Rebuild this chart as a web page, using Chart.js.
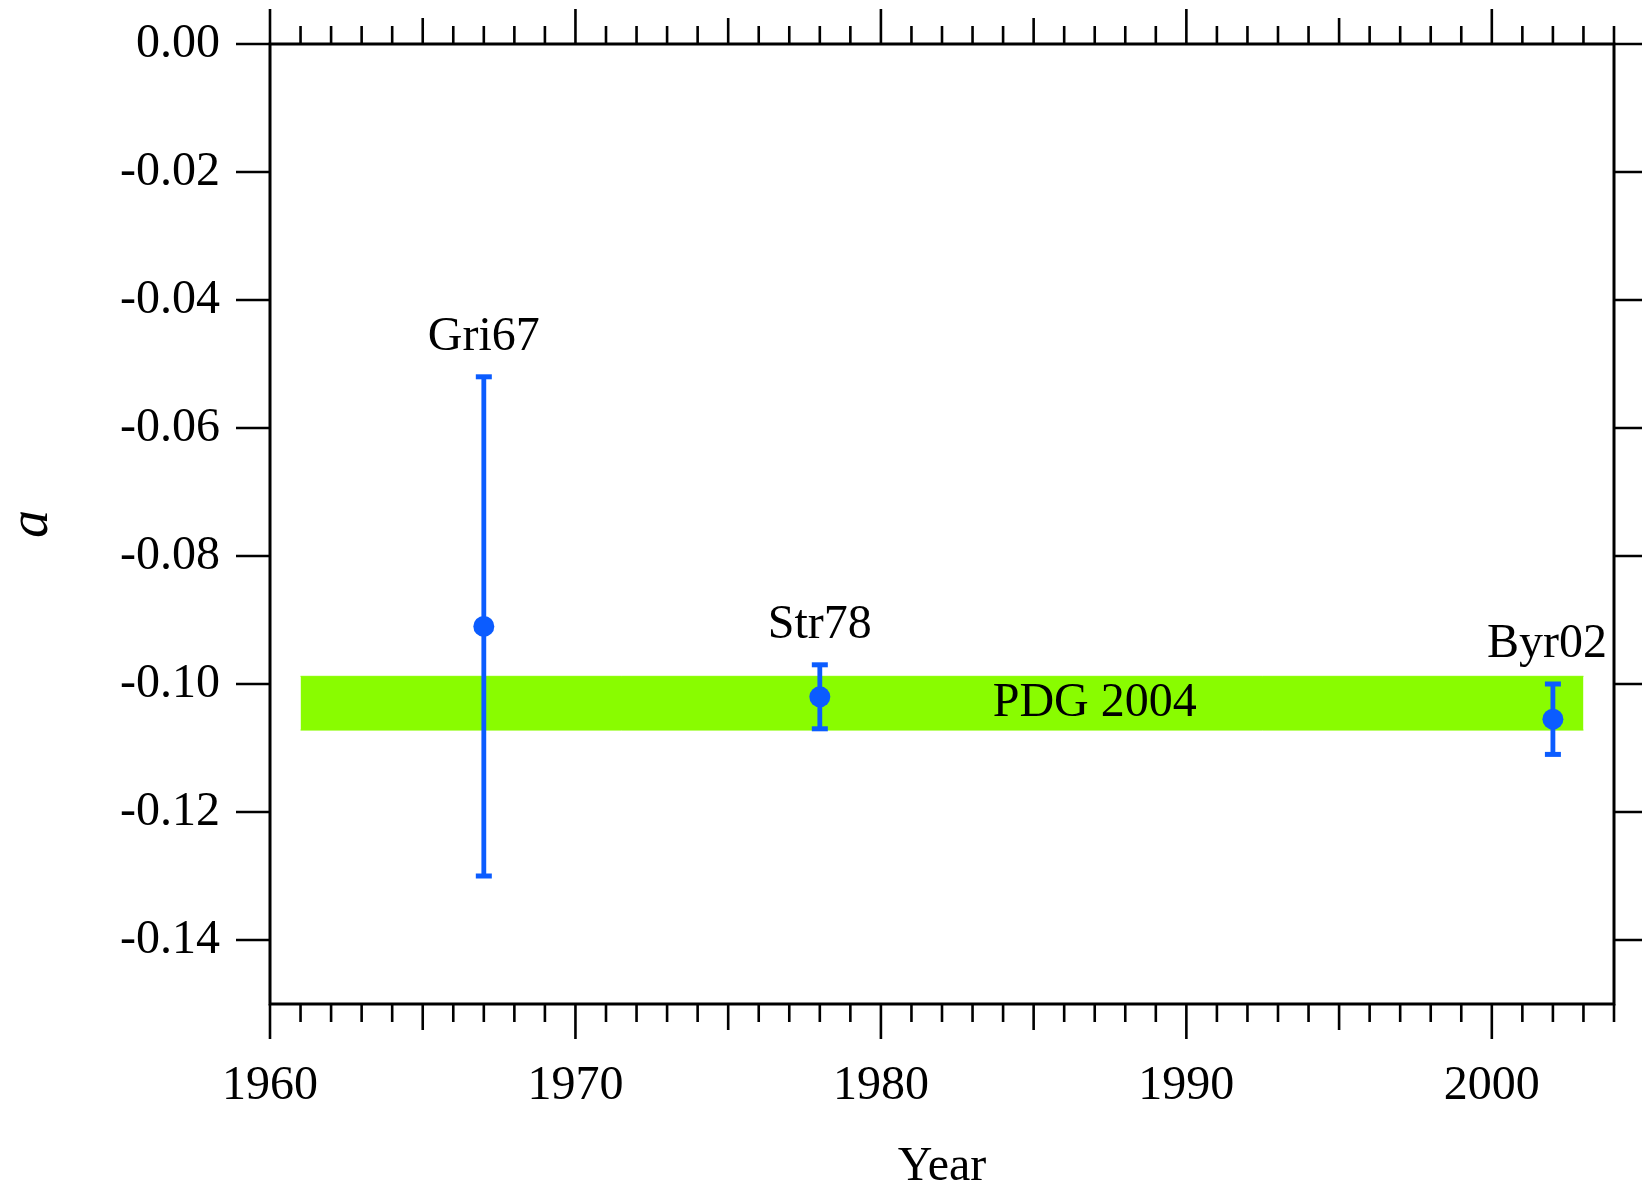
<!DOCTYPE html>
<html>
<head>
<meta charset="utf-8">
<title>a vs Year</title>
<script src="https://cdn.jsdelivr.net/npm/chart.js@4"></script>
<style>
  html, body { margin: 0; padding: 0; background: #fff; }
  #wrap { width: 1642px; height: 1185px; position: relative; }
</style>
</head>
<body>
<div id="wrap"><canvas id="chart"></canvas></div>
<script>
// axis ranges and tick labels
const xMin = 1960, xMax = 2004;
const yMin = -0.15, yMax = 0;
const xTickLabels = [1960, 1970, 1980, 1990, 2000];
const yTickValues = [0, -0.02, -0.04, -0.06, -0.08, -0.10, -0.12, -0.14];

// measurements
const experiments = ['Gri67', 'Str78', 'Byr02'];
const years = [1967, 1978, 2002];
const values = [-0.091, -0.102, -0.1055];
const errors = [0.039, 0.005, 0.0055];

// PDG 2004 band
const pdgLabel = 'PDG 2004';
const pdgSpan = [1961, 2003];
const pdgHigh = -0.0988;
const pdgLow = -0.1072;
const pdgLabelYear = 1987;

const BLUE = '#0b5cff';
const GREEN = '#89fc00';
const FONT = 'Liberation Serif, Times New Roman, serif';

// error bars: low, high, gap
const errorBarData = [];
years.forEach((yr, i) => {
    errorBarData.push({ x: yr, y: values[i] - errors[i] });
    errorBarData.push({ x: yr, y: values[i] + errors[i] });
    errorBarData.push({ x: yr, y: null });
});

// frame with year ticks top/bottom and value ticks left/right
const framePlugin = {
    id: 'frame',
    afterDraw(chart) {
        const { ctx, chartArea: a, scales: { x, y } } = chart;
        ctx.save();
        ctx.strokeStyle = '#000';
        ctx.lineWidth = 3;
        ctx.strokeRect(a.left, a.top, a.right - a.left, a.bottom - a.top);

        ctx.lineWidth = 2.6;
        ctx.beginPath();
        for (let yr = xMin; yr <= xMax; yr++) {
            const len = yr % 10 === 0 ? 35 : (yr % 5 === 0 ? 26 : 18);
            const px = x.getPixelForValue(yr);
            ctx.moveTo(px, a.top);
            ctx.lineTo(px, a.top - len);
            ctx.moveTo(px, a.bottom);
            ctx.lineTo(px, a.bottom + len);
        }
        yTickValues.forEach(v => {
            const py = y.getPixelForValue(v);
            ctx.moveTo(a.left, py);
            ctx.lineTo(a.left - 34, py);
            ctx.moveTo(a.right, py);
            ctx.lineTo(a.right + 34, py);
        });
        ctx.stroke();
        ctx.restore();
    }
};

// experiment names above the error bars, band label inside the band
const labelPlugin = {
    id: 'labels',
    afterDatasetsDraw(chart) {
        const { ctx, chartArea: a, scales: { x, y } } = chart;
        ctx.save();
        ctx.fillStyle = '#000';
        ctx.font = '48px ' + FONT;
        ctx.textAlign = 'center';
        ctx.textBaseline = 'alphabetic';
        experiments.forEach((name, i) => {
            const w = ctx.measureText(name).width;
            let px = x.getPixelForValue(years[i]);
            px = Math.min(px, a.right - 7 - w / 2);
            const py = y.getPixelForValue(values[i] + errors[i]) - 27;
            ctx.fillText(name, px, py);
        });
        ctx.textBaseline = 'middle';
        ctx.fillText(pdgLabel, x.getPixelForValue(pdgLabelYear),
            y.getPixelForValue((pdgHigh + pdgLow) / 2));
        ctx.restore();
    }
};

new Chart(document.getElementById('chart'), {
    type: 'line',
    data: {
        datasets: [
            {
                label: 'band top',
                data: pdgSpan.map(yr => ({ x: yr, y: pdgHigh })),
                borderColor: GREEN,
                borderWidth: 1,
                pointRadius: 0,
                fill: false,
                order: 3
            },
            {
                label: pdgLabel,
                data: pdgSpan.map(yr => ({ x: yr, y: pdgLow })),
                borderColor: GREEN,
                borderWidth: 1,
                backgroundColor: GREEN,
                pointRadius: 0,
                fill: '-1',
                order: 2
            },
            {
                label: 'errors',
                data: errorBarData,
                borderColor: BLUE,
                borderWidth: 4.8,
                spanGaps: false,
                pointStyle: 'line',
                pointRadius: 8,
                pointBorderWidth: 5,
                pointBorderColor: BLUE,
                fill: false,
                order: 1
            },
            {
                label: 'a',
                data: years.map((yr, i) => ({ x: yr, y: values[i] })),
                showLine: false,
                pointRadius: 10.5,
                pointBackgroundColor: BLUE,
                pointBorderColor: BLUE,
                pointBorderWidth: 0,
                order: 0
            }
        ]
    },
    options: {
        responsive: true,
        maintainAspectRatio: false,
        animation: false,
        layout: { padding: { top: 44, right: 28, left: 0, bottom: 0 } },
        plugins: {
            legend: { display: false },
            tooltip: { enabled: false }
        },
        scales: {
            x: {
                type: 'linear',
                position: 'bottom',
                min: xMin,
                max: xMax,
                grid: { display: false, drawTicks: false },
                border: { display: false },
                afterBuildTicks: s => { s.ticks = xTickLabels.map(v => ({ value: v })); },
                afterFit: s => {
                    s.height = 181;
                    s.paddingLeft = 0;
                    s.paddingRight = 0;
                },
                ticks: {
                    autoSkip: false,
                    maxRotation: 0,
                    padding: 54,
                    color: '#000',
                    font: { family: FONT, size: 48 },
                    callback: v => String(v)
                },
                title: {
                    display: true,
                    text: 'Year',
                    color: '#000',
                    font: { family: FONT, size: 48, lineHeight: 0.75 },
                    padding: 0
                }
            },
            y: {
                type: 'linear',
                position: 'left',
                min: yMin,
                max: yMax,
                grid: { display: false, drawTicks: false },
                border: { display: false },
                afterBuildTicks: s => { s.ticks = yTickValues.map(v => ({ value: v })); },
                afterFit: s => {
                    s.width = 270;
                    s.paddingTop = 0;
                    s.paddingBottom = 0;
                },
                ticks: {
                    padding: 50,
                    color: '#000',
                    font: { family: FONT, size: 48 },
                    callback: v => v.toFixed(2)
                },
                title: {
                    display: true,
                    text: 'a',
                    color: '#000',
                    font: { family: FONT, size: 56, style: 'italic', lineHeight: 0.86 },
                    padding: { top: 8, bottom: 0 }
                }
            }
        }
    },
    plugins: [framePlugin, labelPlugin]
});
</script>
</body>
</html>
